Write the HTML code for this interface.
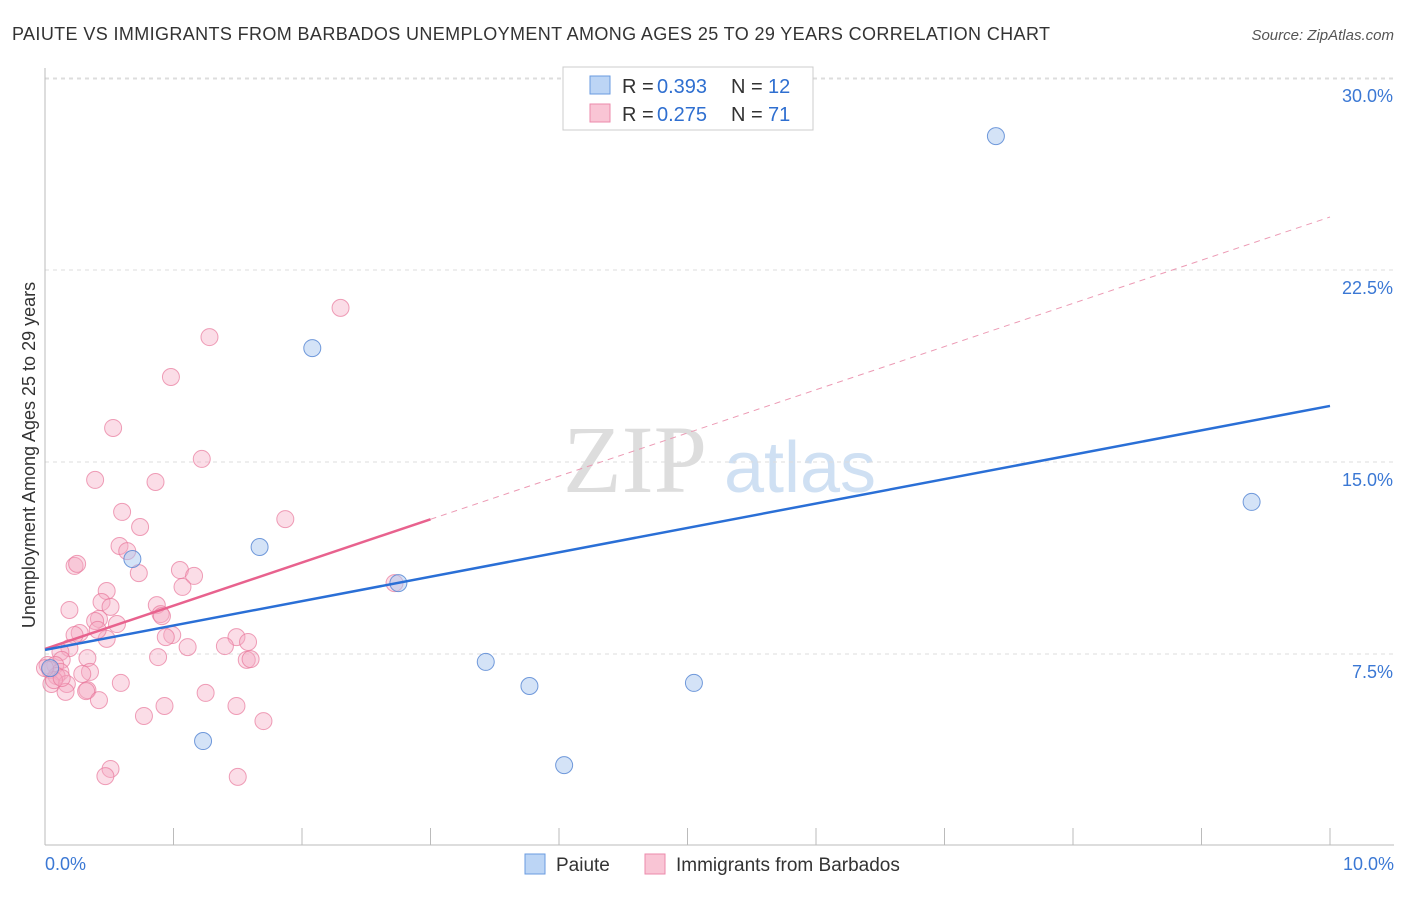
<!DOCTYPE html>
<html><head><meta charset="utf-8"><style>
body{margin:0;background:#fff;font-family:"Liberation Sans",sans-serif}
</style></head><body>
<svg width="1406" height="892" viewBox="0 0 1406 892" xmlns="http://www.w3.org/2000/svg">
<text x="12" y="40" font-size="18" fill="#333" textLength="1038">PAIUTE VS IMMIGRANTS FROM BARBADOS UNEMPLOYMENT AMONG AGES 25 TO 29 YEARS CORRELATION CHART</text>
<text x="1394" y="40" font-size="15" fill="#555" font-style="italic" text-anchor="end">Source: ZipAtlas.com</text>
<g><text x="635" y="492" font-size="96" fill="#ddd" font-family="Liberation Serif" text-anchor="middle">ZIP</text><text x="800" y="492" font-size="72" fill="#cfe0f3" text-anchor="middle">atlas</text></g>
<g id="grid"></g>
<g id="axes"></g>
<g id="marks"></g>
<text x="35" y="455" font-size="18" fill="#333" text-anchor="middle" transform="rotate(-90 35 455)">Unemployment Among Ages 25 to 29 years</text>
<g>
<rect x="563" y="67" width="250" height="63" fill="#fff" stroke="#ccc"/>
<rect x="590" y="76" width="20" height="18" fill="#bcd5f5" stroke="#6a9be0"/>
<rect x="590" y="104" width="20" height="18" fill="#f9c5d5" stroke="#ec8aab"/>
<text y="93" font-size="20" fill="#333"><tspan x="622">R =</tspan><tspan x="657" fill="#2f6fd0">0.393</tspan><tspan x="731">N =</tspan><tspan x="768" fill="#2f6fd0">12</tspan></text>
<text y="121" font-size="20" fill="#333"><tspan x="622">R =</tspan><tspan x="657" fill="#2f6fd0">0.275</tspan><tspan x="731">N =</tspan><tspan x="768" fill="#2f6fd0">71</tspan></text>
</g>
<g>
<rect x="525" y="854" width="20" height="20" fill="#bcd5f5" stroke="#6a9be0"/>
<text x="556" y="871" font-size="19" fill="#333">Paiute</text>
<rect x="645" y="854" width="20" height="20" fill="#f9c5d5" stroke="#ec8aab"/>
<text x="676" y="871" font-size="19" fill="#333">Immigrants from Barbados</text>
</g>
</svg>
<script>
const yTicks=[7.5,15,22.5,30];
const yTickLabels=["7.5%","15.0%","22.5%","30.0%"];
const xTickLabels=["0.0%","10.0%"];
const blueX=[0.04,0.68,1.23,1.67,2.08,2.75,3.43,3.77,4.04,5.05,7.40,9.39];
const blueY=[6.95,11.21,4.10,11.68,19.45,10.27,7.19,6.25,3.16,6.37,27.73,13.44];
const pinkX=[2.30,1.28,0.98,0.53,1.22,0.39,0.86,1.87,0.60,0.74,0.58,0.64,0.23,0.25,0.73,1.05,1.16,1.07,0.48,0.44,0.51,0.19,0.87,0.90,0.91,0.42,0.39,0.56,0.27,0.23,0.48,0.99,0.94,1.49,1.58,1.40,1.11,0.19,0.12,0.33,0.88,1.57,1.60,0.13,0.02,0.08,0.04,0.12,0.09,0.35,0.29,0.05,0.17,0.59,0.33,0.32,0.16,1.25,0.42,0.93,1.49,0.77,1.70,0.51,0.47,1.50,0.07,0.00,0.13,0.41,2.72];
const pinkY=[21.02,19.88,18.32,16.33,15.12,14.30,14.22,12.77,13.05,12.46,11.72,11.52,10.94,11.02,10.66,10.78,10.55,10.12,9.96,9.53,9.34,9.22,9.41,9.06,8.98,8.87,8.79,8.67,8.32,8.24,8.09,8.24,8.16,8.16,7.97,7.81,7.77,7.73,7.58,7.34,7.38,7.27,7.30,7.27,7.07,7.07,6.88,6.80,6.64,6.80,6.72,6.33,6.33,6.37,6.09,6.05,6.02,5.98,5.70,5.47,5.47,5.08,4.88,3.01,2.73,2.70,6.48,6.95,6.56,8.44,10.27];
const blueTrend=[7.66,17.19];
const pinkTrend=[7.70,24.57];
const pinkSolidEnd=3.0;
const X=v=>45+v*128.5, Y=v=>846-v*25.6;
const NS="http://www.w3.org/2000/svg";
function mk(t,a,p){const e=document.createElementNS(NS,t);for(const k in a)e.setAttribute(k,a[k]);p.appendChild(e);return e;}
const grid=document.getElementById('grid'),axes=document.getElementById('axes'),marks=document.getElementById('marks');
yTicks.forEach((t,i)=>{
 const l=mk('line',{x1:45,x2:1394,y1:Y(t),y2:Y(t),stroke:'#ddd','stroke-dasharray':'4,4'},grid);
 
 
 const tx=mk('text',{x:1393,y:Y(t)+24,'font-size':18,fill:'#3b78d4','text-anchor':'end'},axes);
 tx.textContent=yTickLabels[i];
 
 
});
const topGrid=mk('line',{x1:45,x2:1394,y1:79,y2:79,stroke:'#ddd','stroke-dasharray':'4,4'},grid);


const ya=mk('line',{x1:45,x2:45,y1:68,y2:845,stroke:'#bbb'},axes);


const xa=mk('line',{x1:45,x2:1394,y1:845,y2:845,stroke:'#bbb'},axes);


for(let i=1;i<=10;i++){const t=mk('line',{x1:X(i),x2:X(i),y1:828,y2:845,stroke:'#bbb'},axes);
 
 }
[[0,'start',45],[10,'end',1394]].forEach((d,i)=>{const t=mk('text',{x:d[2],y:870,'font-size':18,fill:'#3b78d4','text-anchor':d[1]},axes);t.textContent=xTickLabels[i];
 
 });
pinkX.forEach((x,i)=>{const c=mk('circle',{cx:X(x),cy:Y(pinkY[i]),r:8.5,fill:'rgba(246,170,195,0.4)',stroke:'rgba(232,120,155,0.7)','stroke-width':1},marks);
 
 });
blueX.forEach((x,i)=>{const c=mk('circle',{cx:X(x),cy:Y(blueY[i]),r:8.5,fill:'rgba(170,200,240,0.5)',stroke:'rgba(80,130,210,0.8)','stroke-width':1},marks);
 
 });
const pm=pinkTrend[0]+(pinkTrend[1]-pinkTrend[0])*pinkSolidEnd/10;
const pd=mk('line',{x1:X(pinkSolidEnd),y1:Y(pm),x2:X(10),y2:Y(pinkTrend[1]),stroke:'#ec9ab4','stroke-width':1,'stroke-dasharray':'6,5'},marks);


const ps=mk('line',{x1:X(0),y1:Y(pinkTrend[0]),x2:X(pinkSolidEnd),y2:Y(pm),stroke:'#e8628e','stroke-width':2.5},marks);


const bl=mk('line',{x1:X(0),y1:Y(blueTrend[0]),x2:X(10),y2:Y(blueTrend[1]),stroke:'#2a6fd6','stroke-width':2.5},marks);


</script>
</body></html>
